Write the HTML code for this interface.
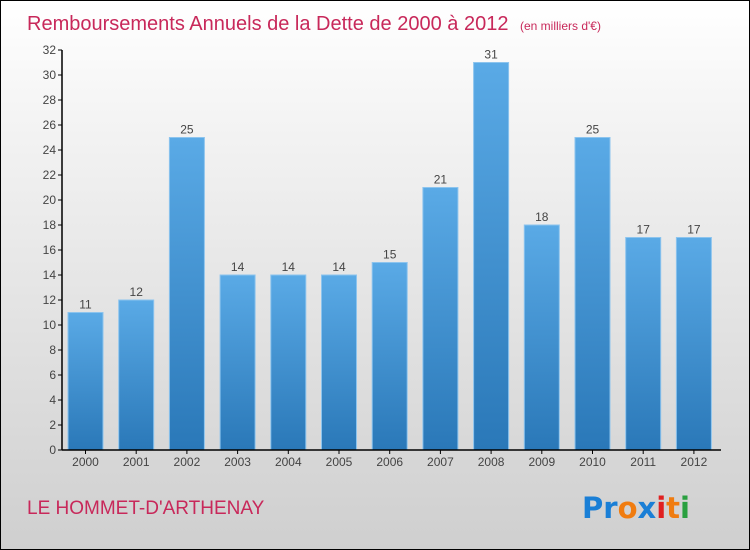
<!DOCTYPE html>
<html><head><meta charset="utf-8"><style>
html,body{margin:0;padding:0}
body{width:750px;height:550px;overflow:hidden;font-family:"Liberation Sans",sans-serif}
#wrap{position:absolute;left:0;top:0;width:748px;height:548px;border:1px solid #000;background:linear-gradient(#ffffff,#f2f2f2 25%,#cfcfcf)}
</style></head><body>
<div id="wrap">
<svg id="chart" width="750" height="550" style="position:absolute;left:-1px;top:-1px">
<defs><linearGradient id="bg" x1="0" y1="0" x2="0" y2="1"><stop offset="0" stop-color="#5aaae6"/><stop offset="1" stop-color="#2a78b8"/></linearGradient></defs>
<text x="27" y="30" font-size="20" fill="#c8285a">Remboursements Annuels de la Dette de 2000 à 2012 <tspan font-size="12" dx="6">(en milliers d'€)</tspan></text>
<text x="27" y="514" font-size="19" fill="#c8285a">LE HOMMET-D'ARTHENAY</text>
<g font-size="29" font-weight="bold" font-family="'DejaVu Sans',sans-serif">
<text x="582" y="518"><tspan fill="#1a7fd6">Pr</tspan><tspan fill="#f07c10">o</tspan><tspan fill="#1a7fd6">x</tspan><tspan fill="#e02020">i</tspan><tspan fill="#f07c10">t</tspan><tspan fill="#2aa040">i</tspan></text></g>
<g id="plot"></g>
</svg></div>
<script>
const categories=["2000","2001","2002","2003","2004","2005","2006","2007","2008","2009","2010","2011","2012"];
const values=[11,12,25,14,14,14,15,21,31,18,25,17,17];
const yTicks=[0,2,4,6,8,10,12,14,16,18,20,22,24,26,28,30,32];
const NS="http://www.w3.org/2000/svg";
const g=document.getElementById('plot');
const x0=62,x1=721,y0=450,yTop=50,yMax=32;
const y=v=>y0-(v/yMax)*(y0-yTop);
const step=50.7,first=85.5,bw=35;
const xc=i=>first+i*step;
function mk(t,a){const e=document.createElementNS(NS,t);for(const k in a)e.setAttribute(k,a[k]);g.appendChild(e);return e;}
yTicks.forEach(v=>{
 const l=mk('line',{x1:x0-4,x2:x0,y1:y(v),y2:y(v),stroke:'#000'});
 
 
 const t=mk('text',{x:x0-6,y:y(v)+4,'text-anchor':'end','font-size':12,fill:'#444'});
 t.textContent=v;
 
 
});
values.forEach((v,i)=>{
 const r=mk('rect',{x:xc(i)-bw/2,y:y(v),width:bw,height:y0-y(v),fill:'url(#bg)',stroke:'#8cc4ee','stroke-width':1});
 
 
 const t=mk('text',{x:xc(i),y:y(v)-4,'text-anchor':'middle','font-size':12,fill:'#444'});
 t.textContent=v;
 
 
 const tk=mk('line',{x1:xc(i),x2:xc(i),y1:y0,y2:y0+4,stroke:'#000'});
 
 
 const c=mk('text',{x:xc(i),y:y0+16,'text-anchor':'middle','font-size':12,fill:'#444'});
 c.textContent=categories[i];
 
 
});
const ya=mk('line',{x1:x0,x2:x0,y1:yTop,y2:y0,stroke:'#000','stroke-width':1.5});


const xa=mk('line',{x1:x0,x2:x1,y1:y0,y2:y0,stroke:'#000','stroke-width':1.5});


</script>
</body></html>
